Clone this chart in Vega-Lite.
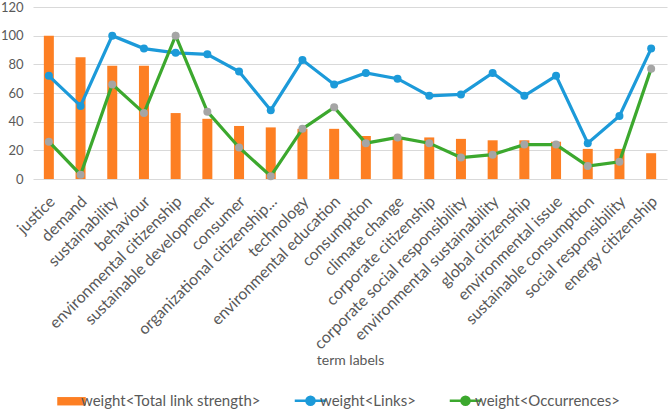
{
  "$schema": "https://vega.github.io/schema/vega-lite/v6.json",
  "width": 634,
  "height": 172,
  "autosize": "none",
  "padding": {"left": 33, "top": 7, "right": 4, "bottom": 234},
  "config": {
    "font": "Lato",
    "view": {"stroke": null},
    "axis": {"labelColor": "#595959", "titleColor": "#595959"}
  },
  "data": {
    "values": [
      {"term": "justice", "strength": 100, "links": 72, "occurrences": 26},
      {"term": "demand", "strength": 85, "links": 51, "occurrences": 3},
      {"term": "sustainability", "strength": 79, "links": 100, "occurrences": 66},
      {"term": "behaviour", "strength": 79, "links": 91, "occurrences": 46},
      {"term": "environmental citizenship", "strength": 46, "links": 88, "occurrences": 100},
      {"term": "sustainable development", "strength": 42, "links": 87, "occurrences": 47},
      {"term": "consumer", "strength": 37, "links": 75, "occurrences": 22},
      {"term": "organizational citizenship...", "strength": 36, "links": 48, "occurrences": 2},
      {"term": "technology", "strength": 35, "links": 83, "occurrences": 35},
      {"term": "environmental education", "strength": 35, "links": 66, "occurrences": 50},
      {"term": "consumption", "strength": 30, "links": 74, "occurrences": 25},
      {"term": "climate change", "strength": 29, "links": 70, "occurrences": 29},
      {"term": "corporate citizenship", "strength": 29, "links": 58, "occurrences": 25},
      {"term": "corporate social responsibility", "strength": 28, "links": 59, "occurrences": 15},
      {"term": "environmental sustainability", "strength": 27, "links": 74, "occurrences": 17},
      {"term": "global citizenship", "strength": 27, "links": 58, "occurrences": 24},
      {"term": "environmental issue", "strength": 26, "links": 72, "occurrences": 24},
      {"term": "sustainable consumption", "strength": 21, "links": 25, "occurrences": 9},
      {"term": "social responsibility", "strength": 21, "links": 44, "occurrences": 12},
      {"term": "energy citizenship", "strength": 18, "links": 91, "occurrences": 77}
    ]
  },
  "encoding": {
    "x": {
      "field": "term",
      "type": "nominal",
      "sort": null,
      "scale": {"paddingInner": 0, "paddingOuter": 0},
      "axis": {
        "labelAngle": -45,
        "labelFontSize": 16,
        "labelPadding": 14,
        "labelOffset": -2,
        "labelLimit": 400,
        "labelOverlap": false,
        "domain": false,
        "ticks": false,
        "title": "term labels",
        "titleFontSize": 14,
        "titleFontWeight": "normal",
        "titlePadding": 2
      }
    }
  },
  "layer": [
    {
      "mark": {"type": "bar", "size": 10},
      "encoding": {
        "y": {
          "field": "strength",
          "type": "quantitative",
          "scale": {"domain": [0, 120]},
          "axis": {
            "values": [0, 20, 40, 60, 80, 100, 120],
            "labelOverlap": false,
            "gridColor": "#d9d9d9",
            "domain": false,
            "ticks": false,
            "labelFontSize": 13,
            "labelPadding": 10,
            "title": null
          }
        },
        "color": {
          "datum": "weight<Total link strength>",
          "type": "nominal",
          "scale": {
            "domain": ["weight<Total link strength>", "weight<Links>", "weight<Occurrences>"],
            "range": ["#fd7f23", "#1c9ad9", "#3ca82e"]
          },
          "legend": {
            "orient": "none",
            "legendX": 31,
            "legendY": 386,
            "direction": "horizontal",
            "title": null,
            "labelFontSize": 15,
            "labelLimit": 400,
            "labelColor": "#595959",
            "labelOffset": 2,
            "symbolSize": 900,
            "columnPadding": 28,
            "encode": {
              "symbols": {
                "update": {
                  "shape": {"signal": "datum.value === 'weight<Total link strength>' ? 'M-0.95,-0.28H0.95V0.28H-0.95Z' : 'M-1.05,0H1.05M-0.27,0A0.27,0.27 0 1,0 0.27,0A0.27,0.27 0 1,0 -0.27,0Z'"},
                  "fill": {"signal": "datum.value === 'weight<Occurrences>' ? '#a5a5a5' : (datum.value === 'weight<Links>' ? '#1c9ad9' : '#fd7f23')"},
                  "stroke": {"signal": "datum.value === 'weight<Occurrences>' ? '#3ca82e' : (datum.value === 'weight<Links>' ? '#1c9ad9' : '#fd7f23')"},
                  "strokeWidth": {"signal": "datum.value === 'weight<Total link strength>' ? 0 : 2.5"},
                  "opacity": {"value": 1}
                }
              }
            }
          }
        }
      }
    },
    {
      "mark": {"type": "line", "color": "#1c9ad9", "strokeWidth": 3.2},
      "encoding": {
        "y": {
          "field": "links",
          "type": "quantitative",
          "axis": {
            "values": [0, 20, 40, 60, 80, 100, 120],
            "labelOverlap": false,
            "gridColor": "#d9d9d9",
            "domain": false,
            "ticks": false,
            "labelFontSize": 13,
            "labelPadding": 10,
            "title": null
          }
        }
      }
    },
    {
      "mark": {"type": "circle", "color": "#1c9ad9", "size": 64, "opacity": 1},
      "encoding": {
        "y": {
          "field": "links",
          "type": "quantitative",
          "axis": {
            "values": [0, 20, 40, 60, 80, 100, 120],
            "labelOverlap": false,
            "gridColor": "#d9d9d9",
            "domain": false,
            "ticks": false,
            "labelFontSize": 13,
            "labelPadding": 10,
            "title": null
          }
        }
      }
    },
    {
      "mark": {"type": "line", "color": "#3ca82e", "strokeWidth": 3.2},
      "encoding": {
        "y": {
          "field": "occurrences",
          "type": "quantitative",
          "axis": {
            "values": [0, 20, 40, 60, 80, 100, 120],
            "labelOverlap": false,
            "gridColor": "#d9d9d9",
            "domain": false,
            "ticks": false,
            "labelFontSize": 13,
            "labelPadding": 10,
            "title": null
          }
        }
      }
    },
    {
      "mark": {"type": "circle", "color": "#a5a5a5", "size": 64, "opacity": 1},
      "encoding": {
        "y": {
          "field": "occurrences",
          "type": "quantitative",
          "axis": {
            "values": [0, 20, 40, 60, 80, 100, 120],
            "labelOverlap": false,
            "gridColor": "#d9d9d9",
            "domain": false,
            "ticks": false,
            "labelFontSize": 13,
            "labelPadding": 10,
            "title": null
          }
        }
      }
    }
  ]
}
